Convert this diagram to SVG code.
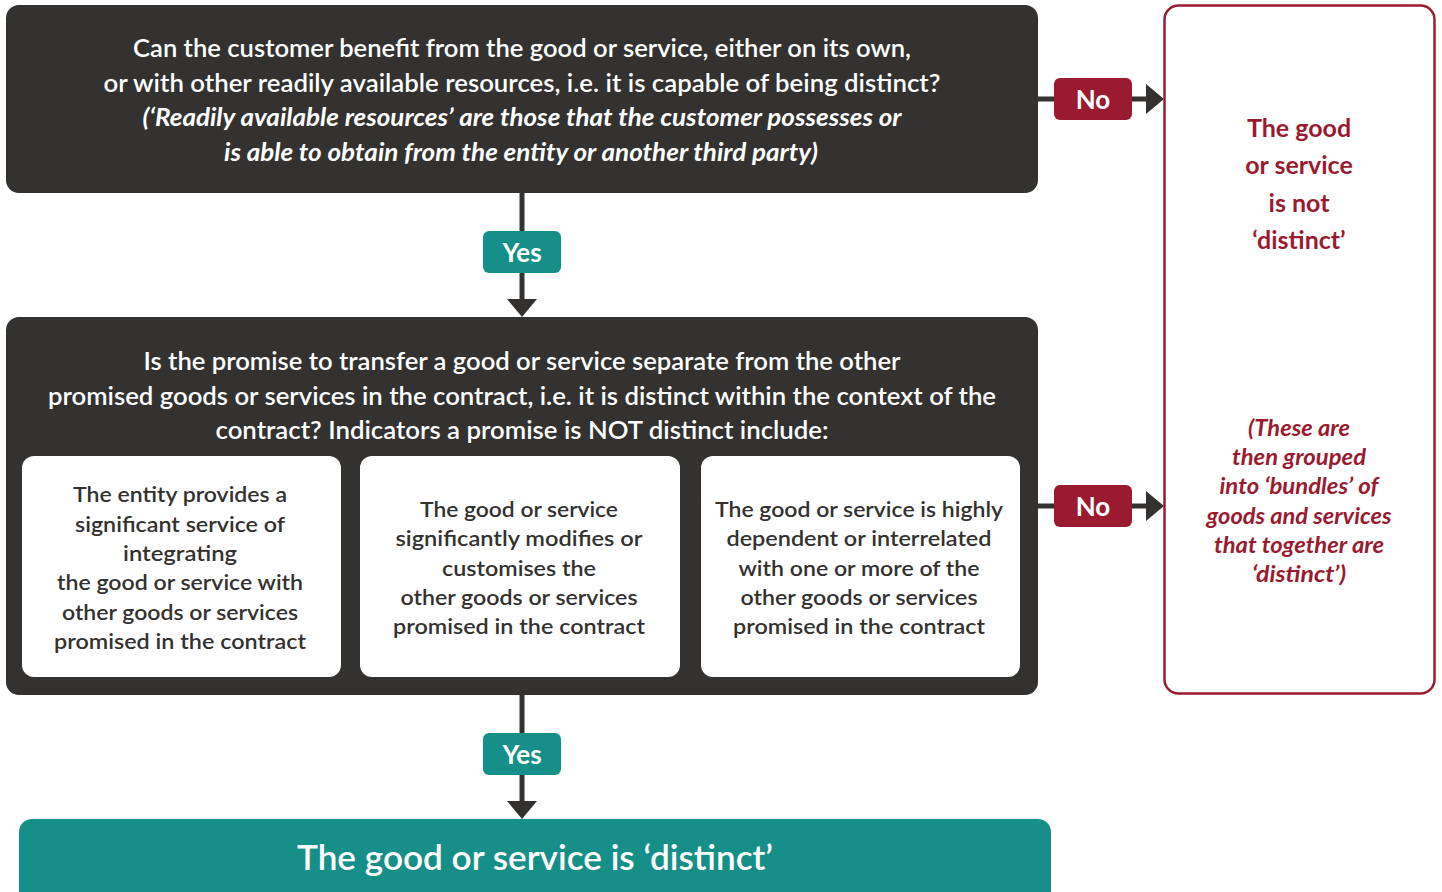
<svg xmlns="http://www.w3.org/2000/svg" width="1442" height="892" viewBox="0 0 1442 892">
<style>
.dark{fill:#333230}
.teal{fill:#178f89}
.crim{fill:#9a1b30}
.wbox{fill:#ffffff}
text{font-family:Lato,"Open Sans","Liberation Sans",sans-serif;font-weight:600;text-anchor:middle}
.wt{fill:#ffffff;font-size:24px}
.wi{fill:#ffffff;font-size:24px;font-style:italic;font-weight:700}
.bt{fill:#333230;font-size:21.5px}
.rt{fill:#9a1b30;font-size:25px;font-weight:700}
.ri{fill:#9a1b30;font-size:22px;font-style:italic;font-weight:700}
.lbl{fill:#ffffff;font-size:26px;font-weight:700}
.big{fill:#ffffff;font-size:35px}
.conn{stroke:#333230;stroke-width:5;fill:none}
</style>
<defs>
<marker id="ah" markerUnits="userSpaceOnUse" markerWidth="20" markerHeight="32" refX="0" refY="16" orient="auto">
<path d="M0,1 L18,16 L0,31 z" fill="#333230"/>
</marker>
</defs>

<g id="connectors">
<line class="conn" x1="522" y1="192" x2="522" y2="299" marker-end="url(#ah)"/>
<line class="conn" x1="522" y1="694" x2="522" y2="801" marker-end="url(#ah)"/>
<line class="conn" x1="1037" y1="99" x2="1146" y2="99" marker-end="url(#ah)"/>
<line class="conn" x1="1037" y1="506" x2="1146" y2="506" marker-end="url(#ah)"/>
<g id="label-yes-1"><rect class="teal" x="483" y="231" width="78" height="42" rx="6"/><text class="lbl" x="522" y="262">Yes</text></g>
<g id="label-yes-2"><rect class="teal" x="483" y="733" width="78" height="42" rx="6"/><text class="lbl" x="522" y="764">Yes</text></g>
<g id="label-no-1"><rect class="crim" x="1054" y="78" width="78" height="42" rx="6"/><text class="lbl" x="1093" y="109">No</text></g>
<g id="label-no-2"><rect class="crim" x="1054" y="485" width="78" height="42" rx="6"/><text class="lbl" x="1093" y="516">No</text></g>
</g>

<g id="q1">
<rect class="dark" x="6" y="5" width="1032" height="188" rx="13"/>
<text class="wt" x="522" y="57" textLength="778" lengthAdjust="spacingAndGlyphs">Can the customer benefit from the good or service, either on its own,</text>
<text class="wt" x="522" y="92" textLength="837" lengthAdjust="spacingAndGlyphs">or with other readily available resources, i.e. it is capable of being distinct?</text>
<text class="wi" x="522" y="126" textLength="759" lengthAdjust="spacingAndGlyphs">(‘Readily available resources’ are those that the customer possesses or</text>
<text class="wi" x="521" y="161" textLength="594" lengthAdjust="spacingAndGlyphs">is able to obtain from the entity or another third party)</text>
</g>

<g id="q2">
<rect class="dark" x="6" y="317" width="1032" height="378" rx="13"/>
<text class="wt" x="522" y="370" textLength="757" lengthAdjust="spacingAndGlyphs">Is the promise to transfer a good or service separate from the other</text>
<text class="wt" x="522" y="405" textLength="948" lengthAdjust="spacingAndGlyphs">promised goods or services in the contract, i.e. it is distinct within the context of the</text>
<text class="wt" x="522" y="439" textLength="613" lengthAdjust="spacingAndGlyphs">contract? Indicators a promise is NOT distinct include:</text>
</g>

<g id="ind1">
<rect class="wbox" x="22" y="456" width="319" height="221" rx="12"/>
<text class="bt" x="180" y="502" textLength="214" lengthAdjust="spacingAndGlyphs">The entity provides a</text>
<text class="bt" x="180" y="532" textLength="210" lengthAdjust="spacingAndGlyphs">significant service of</text>
<text class="bt" x="180" y="561" textLength="114" lengthAdjust="spacingAndGlyphs">integrating</text>
<text class="bt" x="180" y="590" textLength="246" lengthAdjust="spacingAndGlyphs">the good or service with</text>
<text class="bt" x="180" y="620" textLength="236" lengthAdjust="spacingAndGlyphs">other goods or services</text>
<text class="bt" x="180" y="649" textLength="252" lengthAdjust="spacingAndGlyphs">promised in the contract</text>
</g>

<g id="ind2">
<rect class="wbox" x="360" y="456" width="320" height="221" rx="12"/>
<text class="bt" x="519" y="517" textLength="198" lengthAdjust="spacingAndGlyphs">The good or service</text>
<text class="bt" x="519" y="546" textLength="247" lengthAdjust="spacingAndGlyphs">significantly modifies or</text>
<text class="bt" x="519" y="576" textLength="154" lengthAdjust="spacingAndGlyphs">customises the</text>
<text class="bt" x="519" y="605" textLength="237" lengthAdjust="spacingAndGlyphs">other goods or services</text>
<text class="bt" x="519" y="634" textLength="252" lengthAdjust="spacingAndGlyphs">promised in the contract</text>
</g>

<g id="ind3">
<rect class="wbox" x="701" y="456" width="319" height="221" rx="12"/>
<text class="bt" x="859" y="517" textLength="288" lengthAdjust="spacingAndGlyphs">The good or service is highly</text>
<text class="bt" x="859" y="546" textLength="265" lengthAdjust="spacingAndGlyphs">dependent or interrelated</text>
<text class="bt" x="859" y="576" textLength="241" lengthAdjust="spacingAndGlyphs">with one or more of the</text>
<text class="bt" x="859" y="605" textLength="237" lengthAdjust="spacingAndGlyphs">other goods or services</text>
<text class="bt" x="859" y="634" textLength="252" lengthAdjust="spacingAndGlyphs">promised in the contract</text>
</g>

<g id="not-distinct">
<rect x="1164.5" y="5.5" width="270" height="688" rx="14" fill="#ffffff" stroke="#9a1b30" stroke-width="2.5"/>
<text class="rt" x="1299" y="137">The good</text>
<text class="rt" x="1299" y="174">or service</text>
<text class="rt" x="1299" y="212">is not</text>
<text class="rt" x="1299" y="249">‘distinct’</text>
<text class="ri" x="1299" y="436" textLength="102" lengthAdjust="spacingAndGlyphs">(These are</text>
<text class="ri" x="1299" y="465" textLength="134" lengthAdjust="spacingAndGlyphs">then grouped</text>
<text class="ri" x="1299" y="494" textLength="159" lengthAdjust="spacingAndGlyphs">into ‘bundles’ of</text>
<text class="ri" x="1299" y="524" textLength="185" lengthAdjust="spacingAndGlyphs">goods and services</text>
<text class="ri" x="1299" y="553" textLength="170" lengthAdjust="spacingAndGlyphs">that together are</text>
<text class="ri" x="1299" y="582" textLength="94" lengthAdjust="spacingAndGlyphs">‘distinct’)</text>
</g>

<g id="distinct">
<rect class="teal" x="19" y="819" width="1032" height="90" rx="13"/>
<text class="big" x="535" y="870" textLength="476" lengthAdjust="spacingAndGlyphs">The good or service is ‘distinct’</text>
</g>
</svg>
